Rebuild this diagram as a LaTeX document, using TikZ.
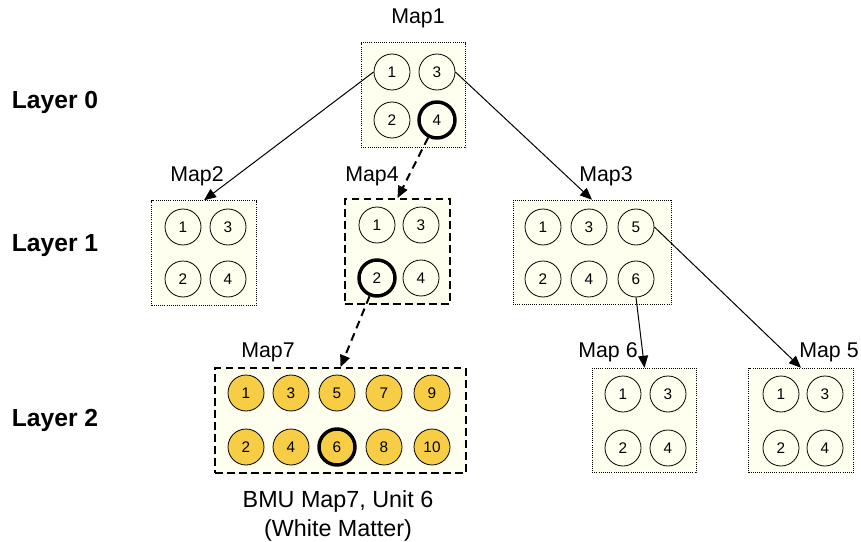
\documentclass[tikz,border=0pt]{standalone}
\usepackage{fontspec}
\setmainfont{Liberation Sans}
\usepackage{tikz}
\usetikzlibrary{arrows.meta,calc,positioning}

\definecolor{boxfill}{RGB}{255,255,240}
\definecolor{unitgold}{RGB}{247,205,70}

\tikzset{
  mapbox/.style={draw, fill=boxfill, densely dotted, line width=0.6pt,
    inner sep=0pt, minimum width=78.5pt, minimum height=78.5pt},
  bmupath/.style={mapbox, solid, dash pattern=on 5.5pt off 3.5pt, line width=1.5pt},
  unit/.style={circle, draw, line width=0.6pt, minimum size=27pt, inner sep=0pt,
    font=\fontsize{11.5}{13}\selectfont},
  bmu/.style={unit, line width=2.6pt},
  maplabel/.style={font=\fontsize{16}{19}\selectfont},
  layerlabel/.style={font=\fontsize{18.5}{21}\selectfont\bfseries},
  link/.style={-{Triangle[length=9pt,width=7.5pt]}, line width=0.75pt},
  bmulink/.style={link, line width=1.5pt, dash pattern=on 6pt off 4pt}
}

\begin{document}
\begin{tikzpicture}[x=0.75pt, y=-0.75pt]

  \useasboundingbox (0,0) rectangle (861,542);

  % Layer names
  \node[layerlabel] (layer0) at (55,102) {Layer 0};
  \node[layerlabel] (layer1) at (55,246) {Layer 1};
  \node[layerlabel] (layer2) at (55,420) {Layer 2};

  % Layer 0: Map1
  \node[mapbox] (map1) at (413.5,95) {};
  \node[maplabel] (map1lbl) at (418,18) {Map1};
  \node[unit] (m1u1) at (392,72) {1};
  \node[unit] (m1u3) at (437,72) {3};
  \node[unit] (m1u2) at (392,120) {2};
  \node[bmu]  (m1u4) at (437,120) {4};

  % Layer 1: Map2, Map4, Map3
  \node[mapbox] (map2) at (204,253) {};
  \node[maplabel] (map2lbl) at (197,176) {Map2};
  \node[unit] (m2u1) at (183,227) {1};
  \node[unit] (m2u3) at (228,227) {3};
  \node[unit] (m2u2) at (183,279) {2};
  \node[unit] (m2u4) at (228,279) {4};

  \node[bmupath] (map4) at (397.5,251.5) {};
  \node[maplabel] (map4lbl) at (372,176) {Map4};
  \node[unit] (m4u1) at (377,225) {1};
  \node[unit] (m4u3) at (421,225) {3};
  \node[bmu]  (m4u2) at (377,278) {2};
  \node[unit] (m4u4) at (421,278) {4};

  \node[mapbox, minimum width=118.5pt] (map3) at (592,252.5) {};
  \node[maplabel] (map3lbl) at (606,176) {Map3};
  \node[unit] (m3u1) at (543,227) {1};
  \node[unit] (m3u3) at (589,227) {3};
  \node[unit] (m3u5) at (636,227) {5};
  \node[unit] (m3u2) at (543,279) {2};
  \node[unit] (m3u4) at (589,279) {4};
  \node[unit] (m3u6) at (636,279) {6};

  % Layer 2: Map7, Map 6, Map 5
  \node[bmupath, minimum width=188pt] (map7) at (340.5,420.5) {};
  \node[maplabel] (map7lbl) at (268,352) {Map7};
  \foreach \n/\x/\y in {1/246/393, 3/291/393, 5/337/393, 7/384/393, 9/432/393,
                        2/246/447, 4/291/447, 8/384/447, 10/432/447}
    \node[unit, fill=unitgold] (m7u\n) at (\x,\y) {\n};
  \node[bmu, fill=unitgold] (m7u6) at (337,447) {6};

  \node[mapbox] (map6) at (644.5,420.5) {};
  \node[maplabel] (map6lbl) at (608,352) {Map 6};
  \node[unit] (m6u1) at (623,394) {1};
  \node[unit] (m6u3) at (668,394) {3};
  \node[unit] (m6u2) at (623,448) {2};
  \node[unit] (m6u4) at (668,448) {4};

  \node[mapbox] (map5) at (801,420.5) {};
  \node[maplabel] (map5lbl) at (829,352) {Map 5};
  \node[unit] (m5u1) at (781,394) {1};
  \node[unit] (m5u3) at (825,394) {3};
  \node[unit] (m5u2) at (781,448) {2};
  \node[unit] (m5u4) at (825,448) {4};

  % Links between maps
  \draw[link] (m1u1.west) -- (map2.north);
  \draw[link] (m1u3.east) -- (map3.north);
  \draw[link] (m3u6.south) -- (map6.north);
  \draw[link] (m3u5.east) -- (map5.north);
  \draw[bmulink] (m1u4) -- (map4.north);
  \draw[bmulink] (m4u2) -- (map7.north);

  % Winner
  \node[font=\fontsize{17.5}{22}\selectfont, align=center] (bmuinfo) at (338,516) {BMU Map7, Unit 6\\(White Matter)};

\end{tikzpicture}
\end{document}
